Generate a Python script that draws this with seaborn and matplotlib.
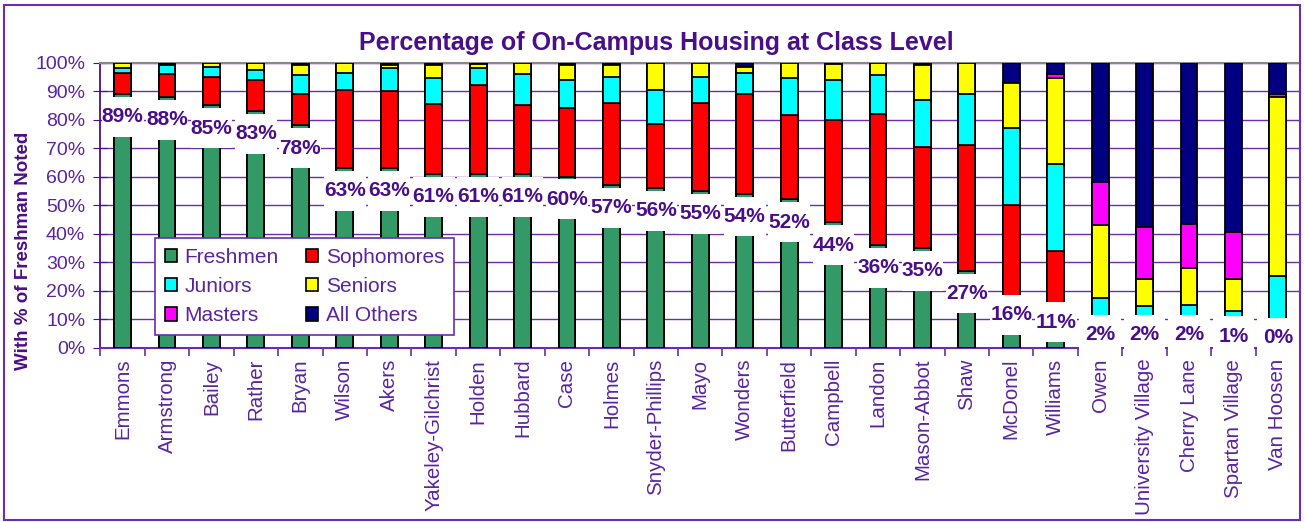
import pandas as pd
import matplotlib
matplotlib.use('Agg')
import matplotlib.pyplot as plt
import seaborn as sns
from matplotlib.patches import Patch, Rectangle
from matplotlib.ticker import FuncFormatter, FixedLocator

halls = ["Emmons", "Armstrong", "Bailey", "Rather", "Bryan", "Wilson", "Akers",
         "Yakeley-Gilchrist", "Holden", "Hubbard", "Case", "Holmes", "Snyder-Phillips",
         "Mayo", "Wonders", "Butterfield", "Campbell", "Landon", "Mason-Abbot", "Shaw",
         "McDonel", "Williams", "Owen", "University Village", "Cherry Lane",
         "Spartan Village", "Van Hoosen"]
freshmen = [89, 88, 85, 83, 78, 63, 63, 61, 61, 61, 60, 57, 56, 55, 54, 52, 44, 36, 35, 27,
            16, 11, 2, 2, 2, 1, 0]
sophomores = [7.5, 8, 10, 11, 11, 27.5, 27, 24.5, 31, 24, 24, 29, 22.5, 31, 35, 29.5, 36, 46,
              35.5, 44, 34, 23, 0, 0, 0, 0, 0]
juniors = [1.5, 3, 3.5, 3.5, 6.5, 6, 8, 9, 6, 11, 10, 9, 12, 9, 7.5, 13, 14, 13.5, 16.5, 18,
           27, 30.5, 15.5, 12.5, 13, 12, 25]
seniors = [2, 0, 1.5, 2.5, 3.5, 3.5, 1, 4.5, 1.5, 4, 5, 4, 9.5, 5, 2, 5.5, 5.5, 4.5, 12, 11,
           16, 30, 25.5, 9.5, 13, 11, 63]
masters = [0, 0, 0, 0, 0, 0, 0, 0, 0, 0, 0, 0, 0, 0, 0, 0, 0, 0, 0, 0,
           0, 1.5, 15, 18.5, 15.5, 16.5, 1]
others = [0, 1, 0, 0, 1, 0, 1, 1, 0.5, 0, 1, 1, 0, 0, 1.5, 0, 0.5, 0, 1, 0,
          7, 4, 42, 57.5, 56.5, 59.5, 11]

groups = ["Freshmen", "Sophomores", "Juniors", "Seniors", "Masters", "All Others"]
colors = ["#339966", "#FF0000", "#00FFFF", "#FFFF00", "#FF00FF", "#000080"]

df = pd.DataFrame({"hall": halls, "Freshmen": freshmen, "Sophomores": sophomores,
                   "Juniors": juniors, "Seniors": seniors, "Masters": masters,
                   "All Others": others})
cum = df[groups].cumsum(axis=1)
cum["hall"] = df["hall"]

purple = "#4A0E8A"
tick_purple = "#5A24A0"
grid_purple = "#6A2DB0"

sns.set_style("white")
plt.rcParams['font.family'] = ['Liberation Sans', 'DejaVu Sans']

fig = plt.figure(figsize=(13.04, 5.22), dpi=100)
ax = fig.add_axes([0.077, 0.334, 0.92, 0.546])

# stacked bars: draw cumulative layers from the top down
for g, c in zip(reversed(groups), reversed(colors)):
    sns.barplot(data=cum, x="hall", y=g, order=halls, color=c, edgecolor="black",
                linewidth=1.3, width=0.38, saturation=1, ax=ax, zorder=3)

ax.set_ylim(0, 100)
ax.set_xlim(-0.5, len(halls) - 0.5)
ax.yaxis.set_major_locator(FixedLocator(range(0, 101, 10)))
ax.yaxis.set_major_formatter(FuncFormatter(lambda v, p: f"{v:.0f}%"))
ax.grid(axis="y", color=grid_purple, linewidth=1.0, zorder=0)
ax.set_axisbelow(True)

ax.spines["right"].set_visible(False)
ax.spines["top"].set_color("#888888")
ax.spines["top"].set_linewidth(1.5)
ax.spines["left"].set_color(purple)
ax.spines["left"].set_linewidth(1.3)
ax.spines["bottom"].set_color(grid_purple)
ax.spines["bottom"].set_linewidth(1.5)

ax.tick_params(axis="y", colors=purple, labelcolor=tick_purple, labelsize=14,
               length=10, direction="inout", left=True, pad=6)
ax.set_xticks(range(len(halls)))
ax.set_xticklabels(halls, rotation=90, color=tick_purple, fontsize=14.8)
ax.tick_params(axis="x", which="major", length=0, pad=8)
ax.set_xticks([i + 0.5 for i in range(-1, len(halls))], minor=True)
ax.tick_params(axis="x", which="minor", length=6, color=grid_purple, width=1.2, bottom=True)

ax.set_xlabel("")
ax.set_ylabel("With % of Freshman Noted", color=purple, fontsize=13.5, fontweight="bold")
ax.yaxis.set_label_coords(-0.057, 0.34)
ax.set_title("Percentage of On-Campus Housing at Class Level", color=purple,
             fontsize=18, fontweight="bold", pad=9, x=0.463)

# freshmen labels sitting in white boxes just under the top of the freshmen segment
for i, v in enumerate(freshmen):
    y = max(v - 8, 3.5 + 0.5 * v)
    ax.add_patch(Rectangle((i - 0.47, y - 7), 0.94, 14, facecolor="white",
                           edgecolor="none", zorder=4, clip_on=False))
    ax.text(i, y, f"{v:.0f}%", ha="center", va="center", fontsize=15,
            fontweight="bold", color=purple, zorder=5)

handles = [Patch(facecolor=c, edgecolor="black", linewidth=1.2, label=g)
           for g, c in zip(groups, colors)]
order = [0, 2, 4, 1, 3, 5]
leg = ax.legend([handles[k] for k in order], [groups[k] for k in order], ncol=2,
                loc="lower left", bbox_to_anchor=(0.0458, 0.045), frameon=True,
                fancybox=False, edgecolor=grid_purple, framealpha=1, fontsize=15,
                handlelength=0.6, handleheight=0.6, handletextpad=0.35,
                columnspacing=1.3, labelspacing=0.5, borderpad=0.45,
                borderaxespad=0)
leg.set_zorder(10)
leg.get_frame().set_linewidth(1.2)
for t in leg.get_texts():
    t.set_color(tick_purple)

fig.patches.append(Rectangle((0.003, 0.004), 0.994, 0.986, transform=fig.transFigure,
                             fill=False, edgecolor=grid_purple, linewidth=1.5))

fig.savefig("out.png", dpi=100)
